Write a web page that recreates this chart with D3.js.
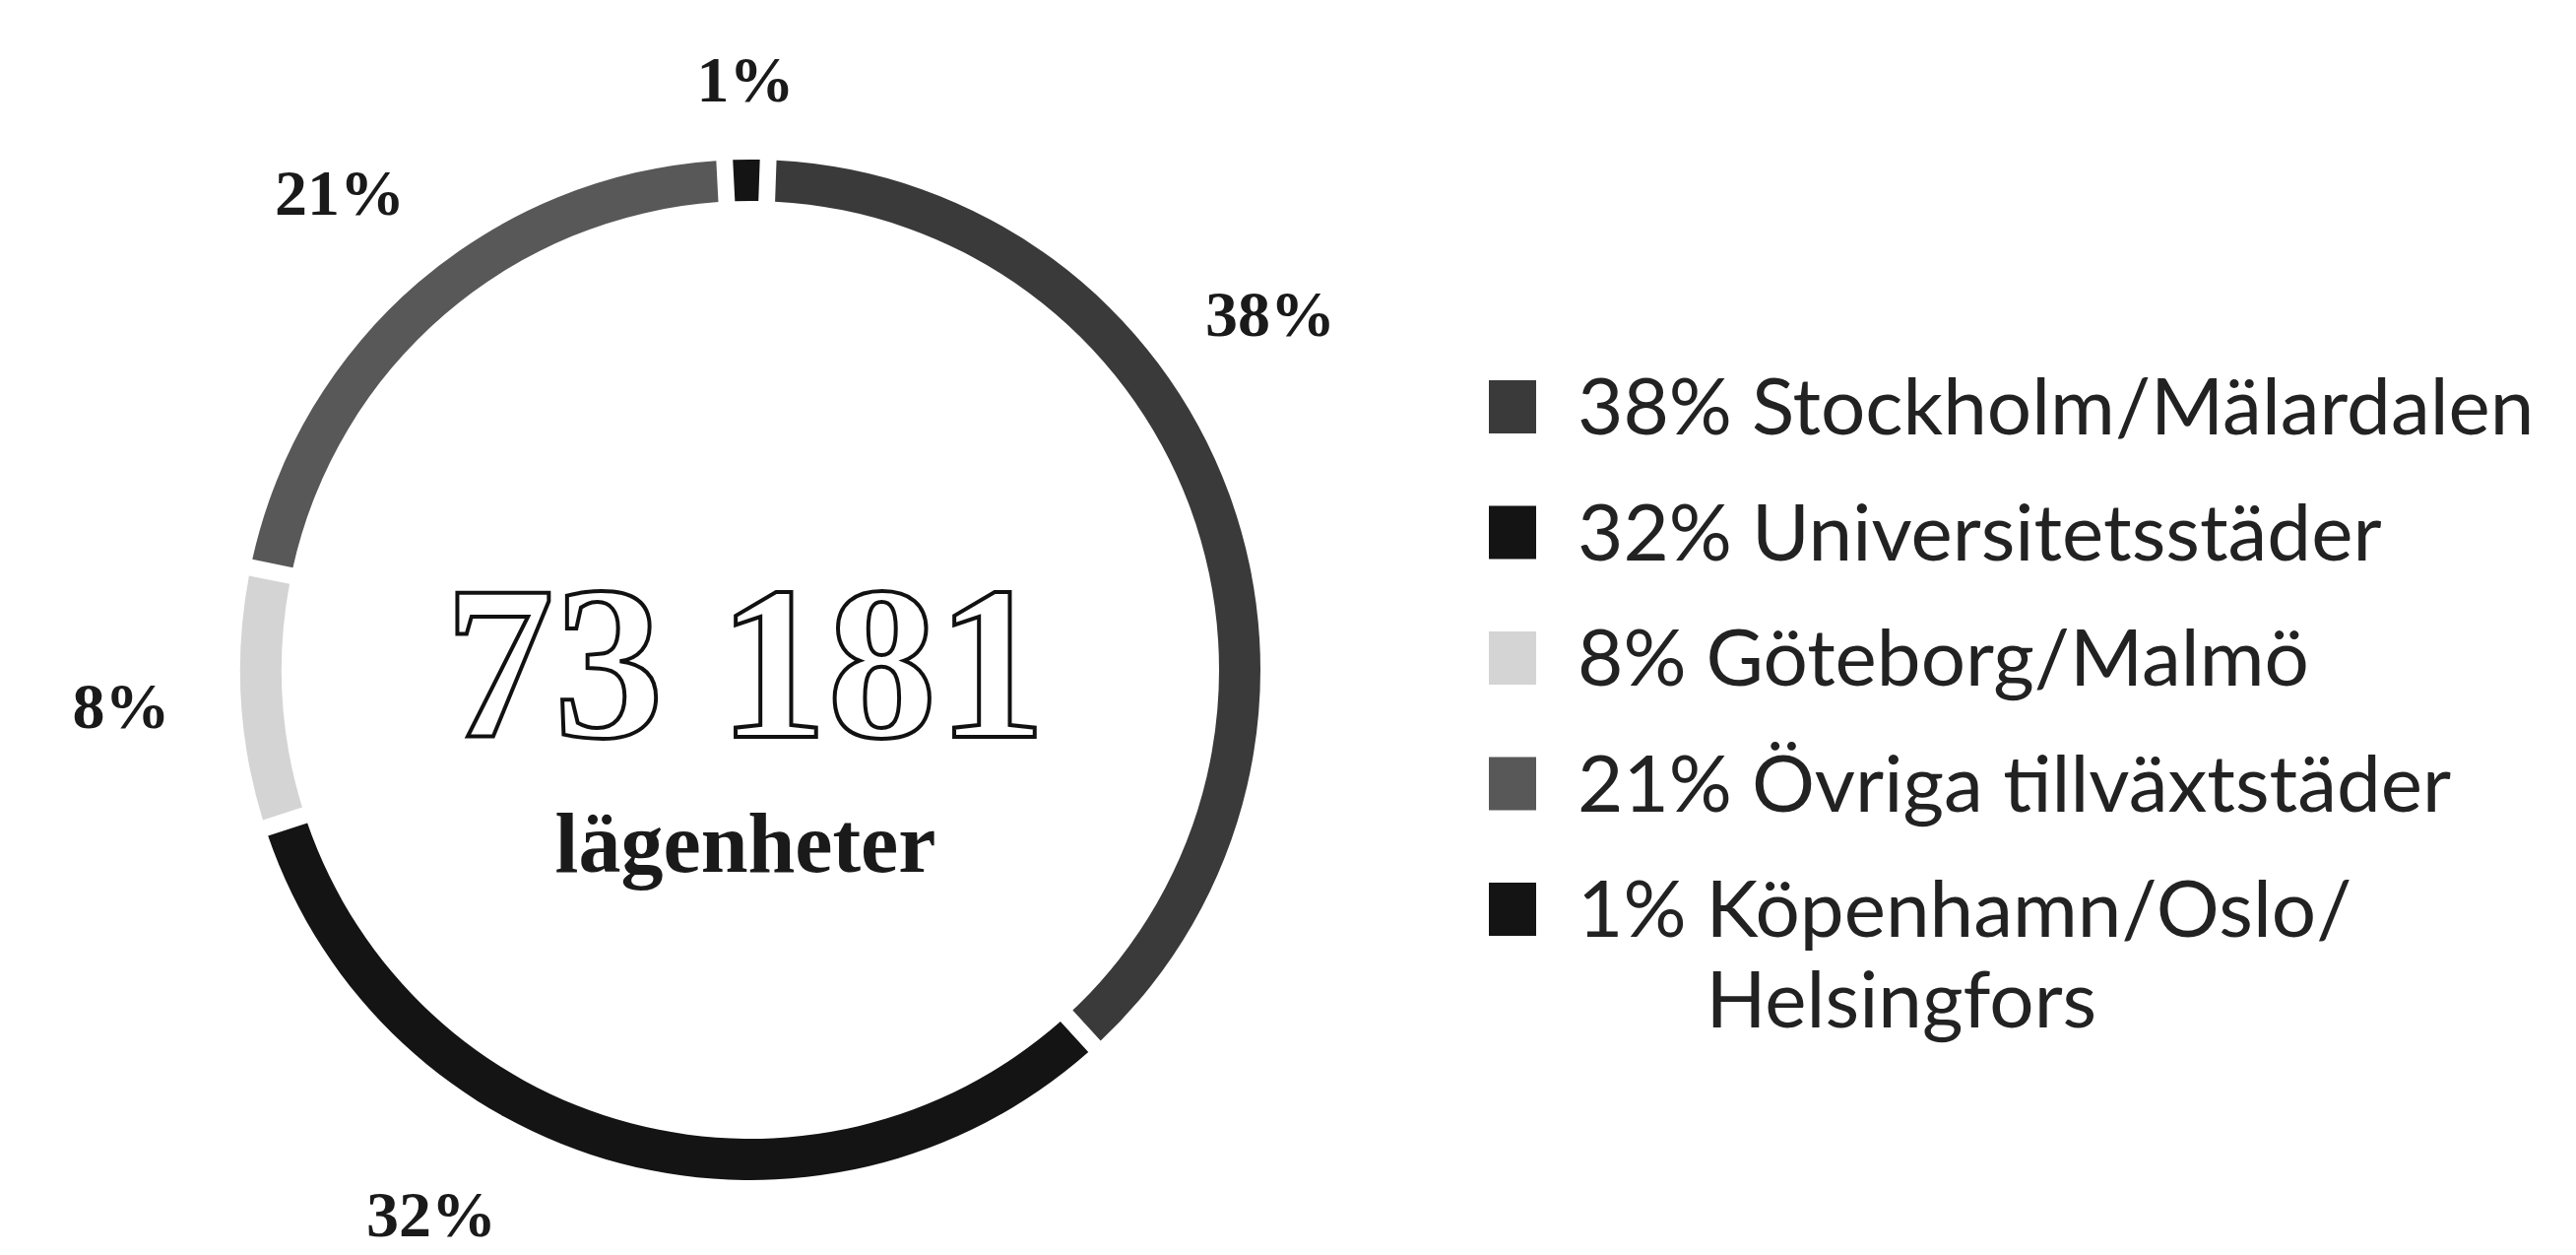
<!DOCTYPE html>
<html>
<head>
<meta charset="utf-8">
<script src="https://d3js.org/d3.v7.min.js"></script>
<style>
  body { margin: 0; background: #fff; }
</style>
</head>
<body>
<script>
// chart values
var regions = ["Stockholm/Mälardalen", "Universitetsstäder", "Göteborg/Malmö", "Övriga tillväxtstäder", "Köpenhamn/Oslo/Helsingfors"];
var shares = [38, 32, 8, 21, 1];
var totalLabel = "73 181";
var unitLabel = "lägenheter";

var width = 2616, height = 1274;
var cx = 762, cy = 680,
    rOuter = 518, rInner = 476,
    labelR = 640;
// plot area that the outside labels have to stay in
var plotMinY = 80, plotMaxX = 1290, plotMaxY = 1232;

var svg = d3.select("body").append("svg")
    .attr("width", width)
    .attr("height", height);

var data = regions.map(function(r, i) { return {region: r, share: shares[i]}; });

var color = d3.scaleOrdinal()
    .domain(regions)
    .range(["#3a3a3a", "#141414", "#d4d4d4", "#585858", "#141414"]);

var fmt = function(v) { return v + "%"; };

// donut
var pie = d3.pie()
    .sort(null)
    .value(function(d) { return d.share; })
    .startAngle(0.035)
    .endAngle(0.035 + 2 * Math.PI)
    .padAngle(0.024);

var arc = d3.arc().innerRadius(rInner).outerRadius(rOuter);

var g = svg.append("g")
    .attr("transform", "translate(" + cx + "," + cy + ")");

var arcs = pie(data);

g.selectAll(".slice")
    .data(arcs)
  .enter().append("path")
    .attr("class", "slice")
    .attr("d", arc)
    .style("fill", function(d) { return color(d.data.region); });

// label sits on a circle at the slice middle, slid along it if it leaves the plot area
function labelPos(d) {
  var a = (d.startAngle + d.endAngle) / 2;
  var x = labelR * Math.sin(a), y = -labelR * Math.cos(a);
  if (cx + x > plotMaxX) {
    var s = Math.asin((plotMaxX - cx) / labelR);
    a = a < Math.PI / 2 ? s : Math.PI - s;
  }
  if (cy + y > plotMaxY) {
    var c = Math.acos((plotMaxY - cy) / labelR);
    a = a > Math.PI ? Math.PI + c : Math.PI - c;
  }
  x = labelR * Math.sin(a);
  y = Math.max(-labelR * Math.cos(a), plotMinY - cy);
  return [x, y];
}

g.selectAll(".pct")
    .data(arcs)
  .enter().append("text")
    .attr("class", "pct")
    .attr("transform", function(d) { return "translate(" + labelPos(d) + ")"; })
    .attr("text-anchor", "middle")
    .attr("dy", "0.35em")
    .style("font-family", "'Liberation Serif', serif")
    .style("font-weight", "bold")
    .style("font-size", "66px")
    .style("fill", "#1a1a1a")
    .text(function(d) { return fmt(d.data.share); });

// centre text
g.append("text")
    .attr("x", -5)
    .attr("y", 68)
    .attr("text-anchor", "middle")
    .style("font-family", "'Liberation Serif', serif")
    .style("font-weight", "bold")
    .style("font-size", "222px")
    .style("fill", "#fff")
    .style("stroke", "#111")
    .style("stroke-width", 4)
    .text(totalLabel);

g.append("text")
    .attr("x", -5)
    .attr("y", 205)
    .attr("text-anchor", "middle")
    .style("font-family", "'Liberation Serif', serif")
    .style("font-weight", "bold")
    .style("font-size", "86px")
    .style("fill", "#1a1a1a")
    .text(unitLabel);

// legend
var legend = svg.append("g")
    .attr("transform", "translate(1512,0)");

var rowY = function(i) { return 413 + i * 127.5; };
var fontPx = 80, maxW = 1090;

var rows = legend.selectAll(".row")
    .data(data)
  .enter().append("g")
    .attr("class", "row")
    .attr("transform", function(d, i) { return "translate(0," + rowY(i) + ")"; });

rows.append("rect")
    .attr("x", 0)
    .attr("y", -27)
    .attr("width", 48)
    .attr("height", 54)
    .style("fill", function(d) { return color(d.region); });

function legendText(sel, x, y, txt) {
  return sel.append("text")
      .attr("x", x)
      .attr("y", y)
      .attr("dy", "0.35em")
      .style("font-family", "Lato, sans-serif")
      .style("font-size", fontPx + "px")
      .style("fill", "#222")
      .text(txt);
}

rows.each(function(d) {
  var row = d3.select(this);
  var pct = legendText(row, 90, 0, fmt(d.share));
  var nameX = 90 + pct.node().getComputedTextLength() + 20;
  var name = legendText(row, nameX, 0, d.region);
  // wrap long names after the last slash
  if (nameX + name.node().getComputedTextLength() > maxW) {
    var cut = d.region.lastIndexOf("/") + 1;
    name.text(d.region.slice(0, cut));
    legendText(row, nameX, 92, d.region.slice(cut));
  }
});
</script>
</body>
</html>
